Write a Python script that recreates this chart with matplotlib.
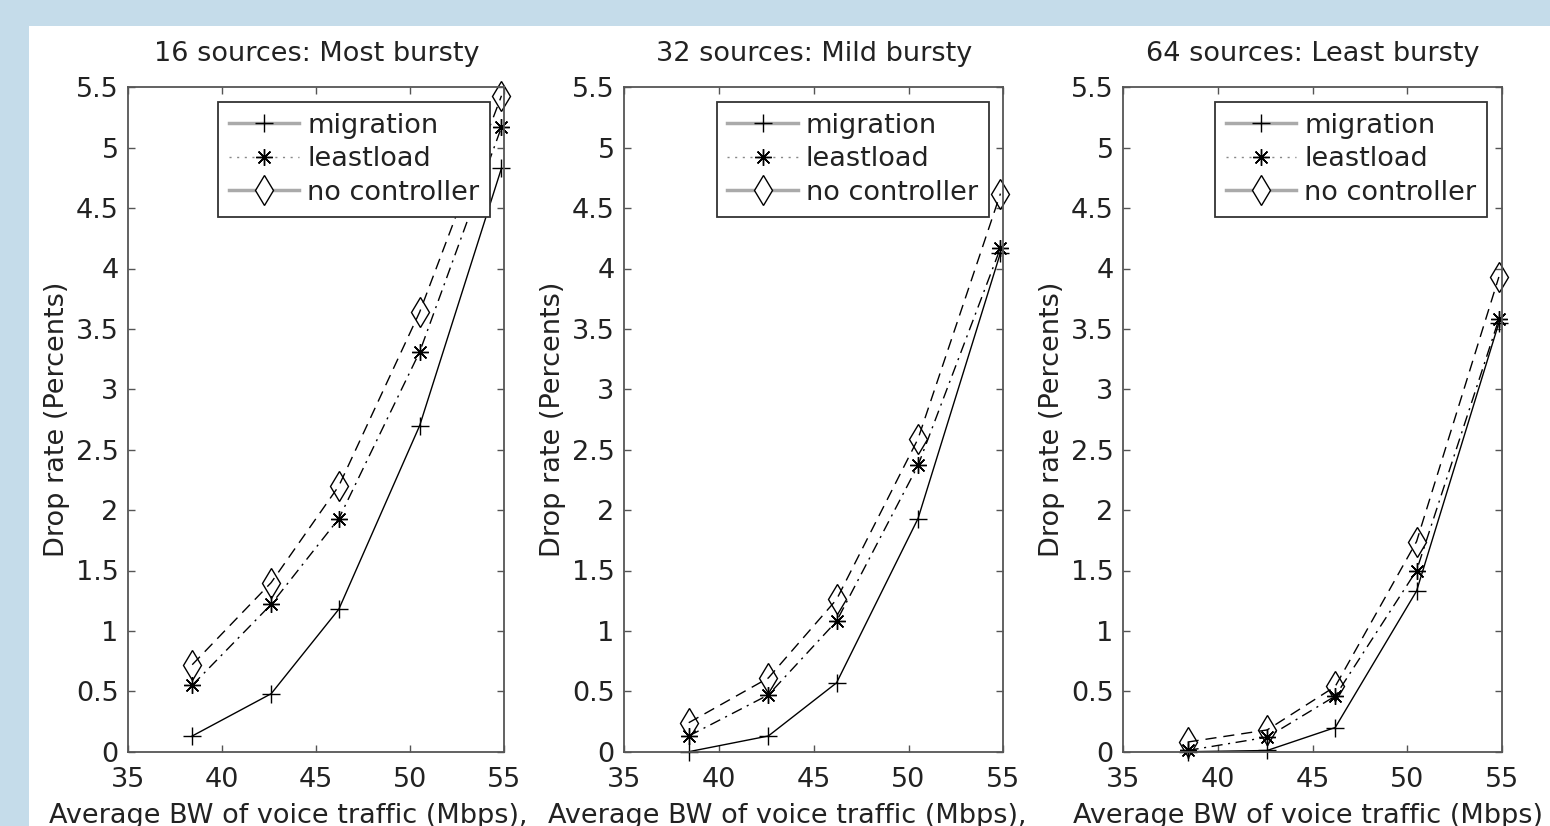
import matplotlib.pyplot as plt
from matplotlib.lines import Line2D
from matplotlib.patches import Rectangle

# Average BW of voice traffic (Mbps)
bw = [38.4, 42.6, 46.2, 50.5, 54.85]

titles = ["16 sources: Most bursty", "32 sources: Mild bursty", "64 sources: Least bursty"]
xlabels = ["Average BW of voice traffic (Mbps),", "Average BW of voice traffic (Mbps),",
           "Average BW of voice traffic (Mbps)"]

# drop rate (percent) for each panel
migration = [
    [0.13, 0.48, 1.18, 2.70, 4.83],
    [0.00, 0.13, 0.57, 1.93, 4.13],
    [0.00, 0.01, 0.20, 1.33, 3.55],
]
leastload = [
    [0.55, 1.22, 1.93, 3.31, 5.17],
    [0.13, 0.47, 1.08, 2.37, 4.17],
    [0.01, 0.12, 0.46, 1.50, 3.58],
]
nocontroller = [
    [0.72, 1.40, 2.20, 3.64, 5.43],
    [0.24, 0.61, 1.26, 2.59, 4.62],
    [0.08, 0.18, 0.54, 1.74, 3.93],
]

xticks = [35, 40, 45, 50, 55]
yticks = [0, 0.5, 1, 1.5, 2, 2.5, 3, 3.5, 4, 4.5, 5, 5.5]
ytick_labels = ["0", "0.5", "1", "1.5", "2", "2.5", "3", "3.5", "4", "4.5", "5", "5.5"]

plt.rcParams['font.family'] = ['DejaVu Sans']
fs = 19.5
txt = '#222222'
spine = '#555555'
asterisk = (8, 2, 0)

fig = plt.figure(figsize=(15.5, 8.26), dpi=100, facecolor='#c5dcea')
# white page area behind the plots
fig.patches.append(Rectangle((29 / 1550, 0), 1, (826 - 26) / 826, transform=fig.transFigure,
                             facecolor='white', edgecolor='none', zorder=-10))

lefts = [128.3, 624.3, 1123.3]
widths = [376.0, 379.0, 378.4]
label_x = [0.426, 0.431, 0.488]

for i in range(3):
    ax = fig.add_axes([lefts[i] / 1550, (826 - 751.7) / 826, widths[i] / 1550, 664.4 / 826])
    ax.plot(bw, migration[i], color='black', lw=1.0, ls='-', marker='+', ms=13, mew=1.0,
            clip_on=False)
    ax.plot(bw, leastload[i], color='black', lw=1.0, ls=(0, (8, 4, 1.5, 4)), marker=asterisk,
            ms=12, mew=1.0, clip_on=False)
    ax.plot(bw, nocontroller[i], color='black', lw=1.0, ls=(0, (8, 5)), marker='d', ms=15,
            mew=1.0, mfc='none', clip_on=False)

    ax.set_xlim(35, 55)
    ax.set_ylim(0, 5.5)
    ax.set_xticks(xticks)
    ax.set_yticks(yticks)
    ax.set_yticklabels(ytick_labels)
    ax.tick_params(direction='in', length=5, width=1, color=spine, labelcolor=txt,
                   labelsize=fs, top=True, right=True, pad=7)
    ax.tick_params(axis='x', pad=11)
    for s in ax.spines.values():
        s.set_color(spine)
        s.set_linewidth(1.3)

    ax.set_title(titles[i], fontsize=fs, color=txt, pad=19)
    ax.set_ylabel("Drop rate (Percents)", fontsize=fs, color=txt, labelpad=4)
    ax.set_xlabel(xlabels[i], fontsize=fs, color=txt)
    ax.xaxis.set_label_coords(label_x[i], -0.077)

    handles = [
        Line2D([], [], color='#aaaaaa', lw=2.5, ls='-', marker='+', ms=13, mew=1.0, mec='black'),
        Line2D([], [], color='#888888', lw=1.0, ls=(0, (1.5, 4)), marker=asterisk, ms=12, mew=1.0,
               mec='black'),
        Line2D([], [], color='#aaaaaa', lw=2.5, ls='-', marker='d', ms=15, mew=1.0, mec='black',
               mfc='white'),
    ]
    leg = ax.legend(handles, ["migration", "leastload", "no controller"], loc='upper right',
                    bbox_to_anchor=(0.962, 0.978), borderaxespad=0, fontsize=fs,
                    handlelength=2.6, handletextpad=0.3, labelspacing=0.28, borderpad=0.4,
                    fancybox=False, framealpha=1)
    leg.get_frame().set_edgecolor('#333333')
    leg.get_frame().set_linewidth(1.3)
    for t in leg.get_texts():
        t.set_color(txt)

fig.savefig("out.png", dpi=100, facecolor=fig.get_facecolor())
